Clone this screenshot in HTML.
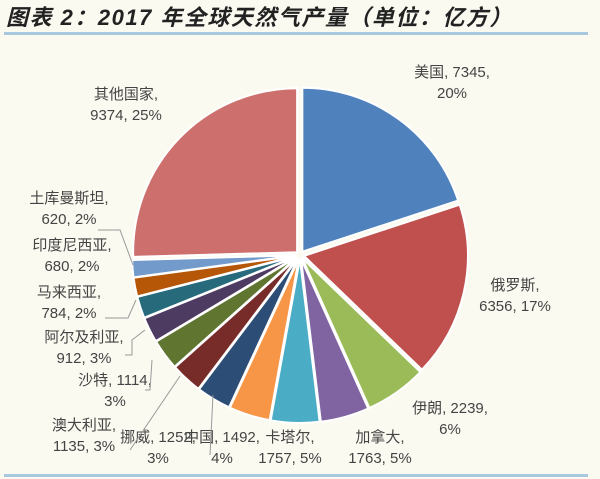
<!DOCTYPE html>
<html><head><meta charset="utf-8"><style>
body{margin:0;width:600px;height:479px;background:#fbfaf1;overflow:hidden;font-family:"Liberation Sans","Noto Sans CJK SC",sans-serif}
#title{position:absolute;left:6px;top:0px;font-size:22px;letter-spacing:1.5px;font-weight:bold;font-style:italic;color:#222;white-space:nowrap}
.rule{position:absolute;left:4px;width:584px;height:3px;background:#a9c7de}
</style></head><body>
<div id="title">图表 2：2017 年全球天然气产量（单位：亿方）</div>
<div class="rule" style="top:32px"></div>
<div class="rule" style="top:474px"></div>
<svg id="chart" width="600" height="479" style="position:absolute;left:0;top:0"></svg>
<script>
const categories=["美国","俄罗斯","伊朗","加拿大","卡塔尔","中国","挪威","澳大利亚","沙特","阿尔及利亚","马来西亚","印度尼西亚","土库曼斯坦","其他国家"];
const values=[7345,6356,2239,1763,1757,1492,1252,1135,1114,912,784,680,620,9374];
const percents=["20%","17%","6%","5%","5%","4%","3%","3%","3%","3%","2%","2%","2%","25%"];
const colors=["#4f81bd","#c0504d","#9bbb59","#8064a2","#4bacc6","#f79646","#2c4d75","#772c2a","#5f7530","#4d3b62","#276a7c","#b65708","#729aca","#cd6f6d"];
const labelLines=[["美国, 7345,","20%"],["俄罗斯,","6356, 17%"],["伊朗, 2239,","6%"],["加拿大,","1763, 5%"],["卡塔尔,","1757, 5%"],["中国, 1492,","4%"],["挪威, 1252,","3%"],["澳大利亚,","1135, 3%"],["沙特, 1114,","3%"],["阿尔及利亚,","912, 3%"],["马来西亚,","784, 2%"],["印度尼西亚,","680, 2%"],["土库曼斯坦,","620, 2%"],["其他国家,","9374, 25%"]];
const labelPos=[[452,77],[515,290],[450,413],[380,442],[290,442],[222,442],[158,442],[84,430],[115,385],[84,342],[69,297],[72,250],[69,203],[126,99]];
const NS="http://www.w3.org/2000/svg";
const svg=document.getElementById('chart');
const cx=300,cy=255,r=164,ex=4;
const total=values.reduce((a,b)=>a+b,0);
let a0=0;
values.forEach((v,i)=>{
  const a1=a0+v/total*2*Math.PI, am=(a0+a1)/2;
  const ox=cx+ex*Math.sin(am), oy=cy-ex*Math.cos(am);
  const p=(a)=>[ox+r*Math.sin(a),oy-r*Math.cos(a)];
  const s=p(a0),e=p(a1);
  const path=document.createElementNS(NS,'path');
  path.setAttribute('d',`M${ox},${oy}L${s[0]},${s[1]}A${r},${r} 0 ${a1-a0>Math.PI?1:0} 1 ${e[0]},${e[1]}Z`);
  path.setAttribute('fill',colors[i]);path.setAttribute('stroke','#fff');path.setAttribute('stroke-width','2');
  
  
  svg.appendChild(path);
  a0=a1;
});
labelLines.forEach((ls,i)=>{
  const t=document.createElementNS(NS,'text');
  t.setAttribute('x',labelPos[i][0]);t.setAttribute('y',labelPos[i][1]);
  t.setAttribute('text-anchor','middle');t.setAttribute('font-size','15');t.setAttribute('fill','#444');
  t.setAttribute('font-family','"Liberation Sans","Noto Sans CJK SC",sans-serif');
  
  
  ls.forEach((l,j)=>{const s=document.createElementNS(NS,'tspan');s.setAttribute('x',labelPos[i][0]);s.setAttribute('dy',j?21:0);s.textContent=l;t.appendChild(s);});
  svg.appendChild(t);
});
[["M98,230L120,230L133,265"],["M105,318L128,318L136,300"],["M125,355L132,355L132,340L145,330"],["M145,390L150,390L152,360"],["M130,450L180,376"],["M210,455L213,395"]].forEach((d,i)=>{
  const l=document.createElementNS(NS,'path');l.setAttribute('d',d[0]);l.setAttribute('fill','none');l.setAttribute('stroke','#999');l.setAttribute('stroke-width','1');
  
  
  svg.appendChild(l);
});
</script>
</body></html>
